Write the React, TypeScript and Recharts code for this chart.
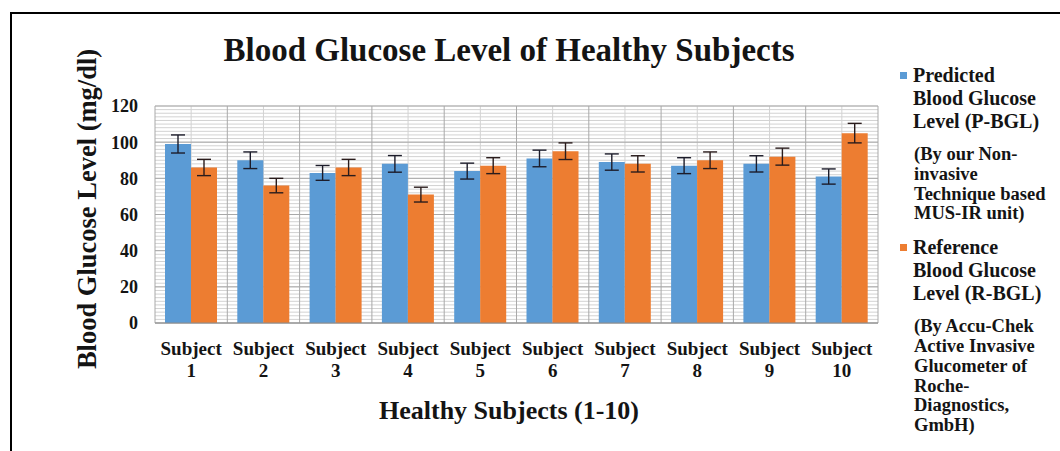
import React from 'react';
import { BarChart, Bar, XAxis, YAxis, CartesianGrid, ErrorBar, Legend } from 'recharts';

const categories = ['Subject 1', 'Subject 2', 'Subject 3', 'Subject 4', 'Subject 5', 'Subject 6', 'Subject 7', 'Subject 8', 'Subject 9', 'Subject 10'];
const predicted = [99, 90, 83, 88, 84, 91, 89, 87, 88, 81];
const reference = [86, 76, 86, 71, 87, 95, 88, 90, 92, 105];
const predictedErr = [5, 4.6, 4.1, 4.6, 4.4, 4.6, 4.5, 4.4, 4.5, 4.2];
const referenceErr = [4.5, 4, 4.5, 4.1, 4.4, 4.6, 4.5, 4.6, 4.7, 5.4];
const yTicks = [0, 20, 40, 60, 80, 100, 120];

const predictedName = 'Predicted\nBlood Glucose\nLevel (P-BGL)';
const predictedNote = '(By our Non-\ninvasive\nTechnique based\nMUS-IR unit)';
const referenceName = 'Reference\nBlood Glucose\nLevel (R-BGL)';
const referenceNote = '(By Accu-Chek\nActive Invasive\nGlucometer of\nRoche-\nDiagnostics,\nGmbH)';

const titleText = 'Blood Glucose Level of Healthy Subjects';
const xTitle = 'Healthy Subjects (1-10)';
const yTitle = 'Blood Glucose Level (mg/dl)';

const BLUE = '#5B9BD5';
const ORANGE = '#ED7D31';
const FONT = '"Liberation Serif", "Times New Roman", serif';
const TEXT = '#141414';

const data = categories.map((c, i) => ({
  subject: c,
  predicted: predicted[i],
  reference: reference[i],
  predictedErr: predictedErr[i],
  referenceErr: referenceErr[i],
}));

const notes: Record<string, string> = {
  [predictedName]: predictedNote,
  [referenceName]: referenceNote,
};

const minorY = Array.from({ length: 61 }, (_, i) => i * 2);

function scaleY(props: any, v: number) {
  const ya = props?.yAxis;
  if (ya && typeof ya.scale === 'function') return ya.scale(v);
  const o = props.offset;
  return o.top + o.height * (1 - v / 120);
}

const XTick = (props: any) => {
  const { x, y, payload } = props;
  const parts = String(payload.value).split(' ');
  return (
    <text x={x} y={y} textAnchor="middle" fontFamily={FONT} fontWeight="bold" fontSize={19} fill={TEXT}>
      <tspan x={x} dy={32}>{parts[0]}</tspan>
      <tspan x={x} dy={22}>{parts[1]}</tspan>
    </text>
  );
};

const LegendContent = (props: any) => {
  const payload = props.payload || [];
  return (
    <div style={{ fontFamily: FONT, fontWeight: 'bold', color: TEXT }}>
      {payload.map((entry: any, idx: number) => (
        <div key={idx} style={{ marginBottom: idx === 0 ? 12 : 0 }}>
          <div style={{ position: 'relative', paddingLeft: 15, fontSize: 20, lineHeight: '23px', whiteSpace: 'pre-line' }}>
            <span style={{ position: 'absolute', left: 2, top: 8, width: 7, height: 7, background: entry.color }} />
            {entry.value}
          </div>
          <div style={{ marginTop: 12, paddingLeft: 16, fontSize: 18.5, lineHeight: '19.8px', whiteSpace: 'pre-line' }}>
            {notes[entry.value]}
          </div>
        </div>
      ))}
    </div>
  );
};

export default function App() {
  return (
    <div style={{ position: 'absolute', left: 0, top: 0, width: 1060, height: 451, background: '#fff', overflow: 'hidden' }}>
      <div style={{ position: 'absolute', left: 10, top: 12, right: -10, bottom: -10, borderTop: '2px solid #000', borderLeft: '2px solid #000' }} />
      <BarChart
        width={1060}
        height={451}
        data={data}
        margin={{ top: 106, right: 182, bottom: 68, left: 95 }}
        barGap={0}
        style={{ position: 'absolute', left: 0, top: 0 }}
      >
        <CartesianGrid
          stroke="#d2d2d2"
          strokeWidth={1}
          horizontalCoordinatesGenerator={(p: any) => minorY.map((v) => scaleY(p, v))}
          verticalCoordinatesGenerator={(p: any) => {
            const o = p.offset;
            const step = o.width / categories.length;
            return categories.map((_, i) => o.left + step * (i + 0.5));
          }}
        />
        <CartesianGrid
          stroke="#a9a9a9"
          strokeWidth={1}
          horizontalCoordinatesGenerator={(p: any) => yTicks.map((v) => scaleY(p, v))}
          verticalCoordinatesGenerator={(p: any) => {
            const o = p.offset;
            const step = o.width / categories.length;
            return [...categories.map((_, i) => o.left + step * i), o.left + o.width];
          }}
        />
        <XAxis
          dataKey="subject"
          height={60}
          interval={0}
          tickLine={false}
          tickSize={0}
          tickMargin={0}
          axisLine={{ stroke: '#8c8c8c', strokeWidth: 1.2 }}
          tick={<XTick />}
        />
        <YAxis
          width={60}
          domain={[0, 120]}
          ticks={yTicks}
          interval={0}
          tickLine={false}
          axisLine={false}
          tickSize={0}
          tickMargin={17}
          tick={{ fontFamily: FONT, fontWeight: 'bold', fontSize: 18, fill: TEXT }}
        />
        <Legend
          layout="horizontal"
          verticalAlign="middle"
          align="center"
          content={<LegendContent />}
          wrapperStyle={{ position: 'absolute', left: 898, top: 64, width: 160, height: 'auto' }}
        />
        <Bar dataKey="predicted" name={predictedName} fill={BLUE} barSize={26} isAnimationActive={false}>
          <ErrorBar dataKey="predictedErr" width={7} stroke="#1c1c2a" strokeWidth={1.4} direction="y" />
        </Bar>
        <Bar dataKey="reference" name={referenceName} fill={ORANGE} barSize={26} isAnimationActive={false}>
          <ErrorBar dataKey="referenceErr" width={7} stroke="#2a1c1c" strokeWidth={1.4} direction="y" />
        </Bar>
      </BarChart>
      <svg width={1060} height={451} style={{ position: 'absolute', left: 0, top: 0, pointerEvents: 'none' }}>
        <text x={509} y={61} textAnchor="middle" fontFamily={FONT} fontWeight="bold" fontSize={33} fill={TEXT}>
          {titleText}
        </text>
        <text x={509} y={419} textAnchor="middle" fontFamily={FONT} fontWeight="bold" fontSize={26} fill={TEXT}>
          {xTitle}
        </text>
        <text
          x={0}
          y={0}
          textAnchor="middle"
          fontFamily={FONT}
          fontWeight="bold"
          fontSize={26.5}
          fill={TEXT}
          transform="translate(96 209) rotate(-90)"
        >
          {yTitle}
        </text>
      </svg>
    </div>
  );
}
